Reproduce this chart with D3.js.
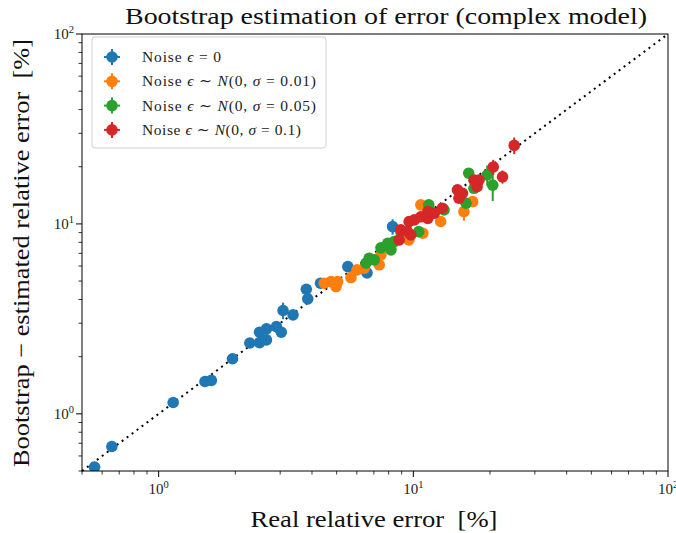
<!DOCTYPE html>
<html><head><meta charset="utf-8">
<script src="https://cdn.jsdelivr.net/npm/d3@7"></script>
<style>body{margin:0;background:#fff}svg{display:block}</style>
</head><body>
<script>
// ---- data: [real error %, bootstrap estimate %, yerr] ----
const noise0 = [
 [0.56,0.524,0.01],[0.655,0.673,0.01],[1.14,1.147,0.02],[1.52,1.48,0.03],[1.61,1.50,0.03],
 [1.95,1.95,0.04],[2.28,2.36,0.05],[2.49,2.69,0.08],[2.49,2.37,0.05],[2.65,2.45,0.05],
 [2.65,2.80,0.06],[2.90,2.88,0.12],[3.03,2.69,0.06],[3.08,3.50,0.35],[3.37,3.32,0.08],
 [3.80,4.53,0.1],[3.85,4.03,0.1],[4.32,4.87,0.1],[5.53,5.96,0.15],[6.58,5.52,0.3],[8.29,9.68,0.9]
];
const noise001 = [
 [4.47,4.87,0.1],[4.75,4.97,0.1],[5.04,4.97,0.1],[4.97,4.68,0.1],[5.69,5.22,0.12],
 [6.01,5.73,0.15],[6.42,5.85,0.2],[7.46,6.87,0.2],[7.35,6.09,0.2],[9.6,8.24,0.3],
 [10.9,8.93,0.3],[10.7,12.6,0.7],[12.8,10.3,0.3],[15.8,11.6,1.2],[17.1,13.1,0.6]
];
const noise005 = [
 [6.52,6.21,0.2],[6.71,6.60,0.2],[7.03,6.47,0.2],[7.46,7.48,0.2],[7.93,7.91,0.3],
 [8.17,7.30,0.2],[8.41,8.07,0.3],[8.93,9.11,0.3],[10.5,9.11,0.3],[11.5,12.6,0.5],
 [13.2,11.85,0.4],[16.1,12.85,0.6],[17.3,15.4,0.6],[16.5,18.5,0.8],[19.5,18.1,2.2],[20.5,16.0,2.8]
];
const noise01 = [
 [8.80,8.24,0.3],[8.93,9.30,0.3],[9.49,9.11,0.3],[9.78,8.75,0.3],[9.63,10.3,0.3],
 [10.1,10.5,0.3],[10.7,10.9,0.4],[11.4,10.7,0.4],[11.4,11.6,0.4],[12.1,11.4,0.4],
 [13.0,12.1,0.5],[15.1,13.65,0.6],[15.6,14.5,0.6],[14.9,15.1,0.6],[17.8,15.7,0.7],
 [17.3,17.0,0.8],[18.1,17.0,0.8],[22.4,17.7,1.4],[20.6,19.95,1.8],[24.9,25.9,2.6]
];
const seriesList = [noise0, noise001, noise005, noise01];
const colors = ["#1f77b4","#ff7f0e","#2ca02c","#d62728"];
const sigmaLabels = [null, "0.01", "0.05", "0.1"];
const domainMin = 0.5, domainMax = 100;
const majorTicks = [1, 10, 100];
const tickExponents = ["0","1","2"];

// ---- layout ----
const W = 676, H = 533;
const m = {left: 82, right: 8, top: 34, bottom: 62};
const svg = d3.select("body").append("svg").attr("width", W).attr("height", H);
const serif = "'Liberation Serif','DejaVu Serif',serif";

const x = d3.scaleLog().domain([domainMin, domainMax]).range([m.left, W - m.right]);
const y = d3.scaleLog().domain([domainMin, domainMax]).range([H - m.bottom, m.top]);

const clipId = "plotclip";
svg.append("clipPath").attr("id", clipId).append("rect")
  .attr("x", m.left).attr("y", m.top).attr("width", x.range()[1]-m.left).attr("height", y.range()[0]-m.top);

// diagonal
svg.append("line").attr("x1", x(domainMin)).attr("y1", y(domainMin))
  .attr("x2", x(domainMax)).attr("y2", y(domainMax))
  .attr("stroke", "#000").attr("stroke-width", 2).attr("stroke-dasharray", "2,4.2");

const plot = svg.append("g").attr("clip-path", `url(#${clipId})`);
seriesList.forEach((s, i) => {
  const g = plot.append("g");
  g.selectAll("line").data(s).join("line")
    .attr("x1", d => x(d[0])).attr("x2", d => x(d[0]))
    .attr("y1", d => y(d[1] + d[2])).attr("y2", d => y(Math.max(d[1] - d[2], 0.01)))
    .attr("stroke", colors[i]).attr("stroke-width", 2);
  g.selectAll("circle").data(s).join("circle")
    .attr("cx", d => x(d[0])).attr("cy", d => y(d[1])).attr("r", 5.8)
    .attr("fill", colors[i]);
});

// minor ticks
const minor = [];
for (let e = -1; e <= 1; e++) for (let k = 2; k <= 9; k++) {
  const v = k * Math.pow(10, e);
  if (v >= domainMin && v <= domainMax) minor.push(v);
}
const axes = svg.append("g").attr("stroke", "#000");
minor.forEach(v => {
  axes.append("line").attr("x1", x(v)).attr("x2", x(v)).attr("y1", y.range()[0]).attr("y2", y.range()[0] + 3.5).attr("stroke-width", 0.8);
  axes.append("line").attr("y1", y(v)).attr("y2", y(v)).attr("x1", m.left).attr("x2", m.left - 3.5).attr("stroke-width", 0.8);
});
majorTicks.forEach((v, i) => {
  axes.append("line").attr("x1", x(v)).attr("x2", x(v)).attr("y1", y.range()[0]).attr("y2", y.range()[0] + 6).attr("stroke-width", 1);
  axes.append("line").attr("y1", y(v)).attr("y2", y(v)).attr("x1", m.left).attr("x2", m.left - 6).attr("stroke-width", 1);
  const tx = svg.append("text").attr("x", x(v)).attr("y", y.range()[0] + 23)
    .attr("text-anchor", "middle").attr("font-family", serif).attr("font-size", 15).attr("fill", "#222");
  tx.append("tspan").text("10");
  tx.append("tspan").attr("dy", -6).attr("font-size", 10.5).text(tickExponents[i]);
  const ty = svg.append("text").attr("x", m.left - 8).attr("y", y(v) + 5)
    .attr("text-anchor", "end").attr("font-family", serif).attr("font-size", 15).attr("fill", "#222");
  ty.append("tspan").text("10");
  ty.append("tspan").attr("dy", -6).attr("font-size", 10.5).text(tickExponents[i]);
});

// frame
svg.append("rect").attr("x", m.left).attr("y", m.top)
  .attr("width", x.range()[1] - m.left).attr("height", y.range()[0] - m.top)
  .attr("fill", "none").attr("stroke", "#000").attr("stroke-width", 1);

// title and labels
svg.append("text").attr("x", 386).attr("y", 24)
  .attr("text-anchor", "middle").attr("font-family", serif).attr("font-size", 24).attr("fill", "#111")
  .attr("textLength", 522).attr("lengthAdjust", "spacingAndGlyphs")
  .text("Bootstrap estimation of error (complex model)");
svg.append("text").attr("x", 374).attr("y", 527)
  .attr("text-anchor", "middle").attr("font-family", serif).attr("font-size", 24).attr("fill", "#111")
  .attr("textLength", 247).attr("lengthAdjust", "spacingAndGlyphs")
  .text("Real relative error\u2002[%]");
svg.append("text").attr("transform", `translate(29,253) rotate(-90)`)
  .attr("text-anchor", "middle").attr("font-family", serif).attr("font-size", 24).attr("fill", "#111")
  .attr("textLength", 428).attr("lengthAdjust", "spacingAndGlyphs")
  .text("Bootstrap \u2212 estimated relative error\u2002[%]");

// legend
const legendWidths = [79, 174, 174, 159];
const lg = svg.append("g");
lg.append("rect").attr("x", 92).attr("y", 37).attr("width", 234).attr("height", 111).attr("rx", 3)
  .attr("fill", "#fff").attr("fill-opacity", 0.8).attr("stroke", "#d0d0d0").attr("stroke-width", 1);
colors.forEach((c, i) => {
  const cy = 57 + i * 24.3, cx = 112;
  lg.append("line").attr("x1", cx - 8).attr("x2", cx + 8).attr("y1", cy).attr("y2", cy).attr("stroke", c).attr("stroke-width", 2);
  lg.append("line").attr("x1", cx).attr("x2", cx).attr("y1", cy - 8).attr("y2", cy + 8).attr("stroke", c).attr("stroke-width", 2);
  lg.append("circle").attr("cx", cx).attr("cy", cy).attr("r", 5.8).attr("fill", c);
  const t = lg.append("text").attr("x", 142).attr("y", cy + 5).attr("font-family", serif).attr("font-size", 15.5).attr("fill", "#222")
    .attr("textLength", legendWidths[i]).attr("lengthAdjust", "spacing");
  t.append("tspan").text("Noise ");
  t.append("tspan").attr("font-style", "italic").text("\u03f5");
  if (sigmaLabels[i] === null) {
    t.append("tspan").text(" = 0");
  } else {
    t.append("tspan").text(" \u223c ");
    t.append("tspan").attr("font-style", "italic").text("N");
    t.append("tspan").text("(0, ");
    t.append("tspan").attr("font-style", "italic").text("\u03c3");
    t.append("tspan").text(" = " + sigmaLabels[i] + ")");
  }
});
</script>
</body></html>
